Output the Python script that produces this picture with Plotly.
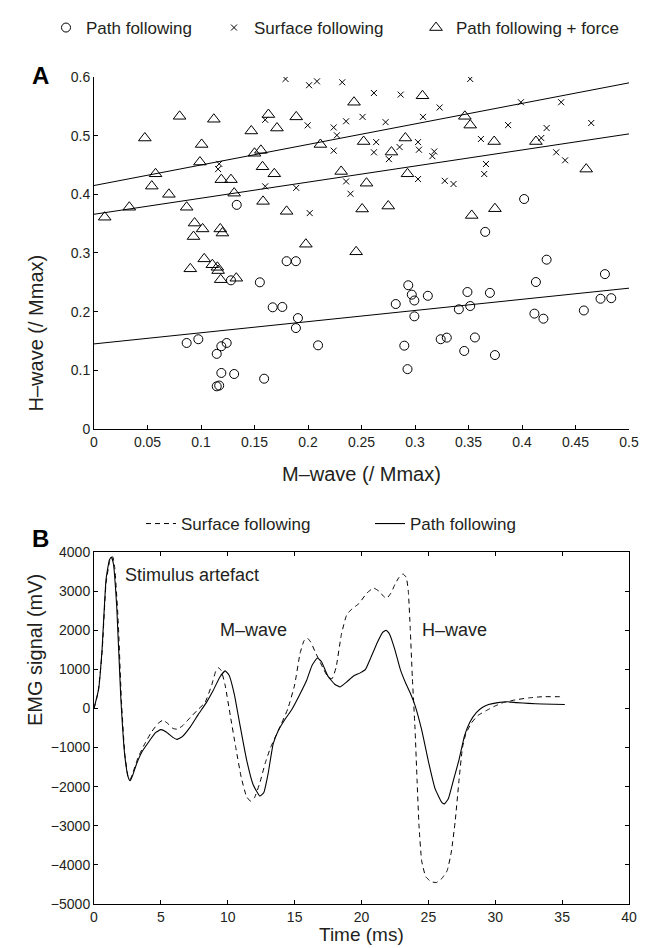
import plotly.graph_objects as go

# ---- Panel A data: H-wave vs M-wave ----
pp0_m = [0.0866, 0.0975, 0.1147, 0.119, 0.124, 0.119, 0.131, 0.1147, 0.117, 0.128,
         0.155, 0.159, 0.167, 0.176, 0.180, 0.1887, 0.1906, 0.1887, 0.2094, 0.1334,
         0.3656, 0.402, 0.423, 0.2937, 0.297, 0.2994, 0.312, 0.282, 0.2994, 0.349,
         0.3516, 0.341, 0.370, 0.413, 0.4116, 0.420, 0.4578, 0.4775, 0.4734, 0.4834,
         0.324, 0.3297, 0.356, 0.346, 0.3747, 0.290, 0.293]
pp0_h = [0.1466, 0.153, 0.128, 0.141, 0.1466, 0.0955, 0.0937, 0.0727, 0.074, 0.2534,
         0.250, 0.0857, 0.2074, 0.208, 0.286, 0.286, 0.189, 0.172, 0.1426, 0.382,
         0.336, 0.392, 0.2886, 0.245, 0.229, 0.219, 0.227, 0.213, 0.192, 0.2335,
         0.2096, 0.204, 0.232, 0.2505, 0.1966, 0.188, 0.202, 0.264, 0.222, 0.223,
         0.153, 0.1557, 0.156, 0.133, 0.126, 0.142, 0.102]

sf_m = [0.179, 0.201, 0.2084, 0.232, 0.251, 0.2356, 0.224, 0.1997, 0.160, 0.227,
        0.224, 0.117, 0.116, 0.160, 0.189, 0.2356, 0.2397, 0.2016, 0.3516, 0.2616,
        0.2866, 0.323, 0.399, 0.4366, 0.2725, 0.3075, 0.387, 0.423, 0.4647, 0.2637,
        0.3028, 0.2616, 0.2856, 0.2756, 0.3037, 0.318, 0.3162, 0.3616, 0.418, 0.432,
        0.4403, 0.3663, 0.3647, 0.3028, 0.3278, 0.336]
sf_h = [0.5966, 0.586, 0.5926, 0.591, 0.532, 0.5245, 0.514, 0.5176, 0.527, 0.5006,
        0.4744, 0.452, 0.443, 0.4136, 0.411, 0.422, 0.401, 0.368, 0.5966, 0.5727,
        0.570, 0.548, 0.557, 0.557, 0.523, 0.532, 0.518, 0.513, 0.5216, 0.489,
        0.489, 0.4716, 0.4806, 0.460, 0.476, 0.473, 0.465, 0.4943, 0.496, 0.4716,
        0.458, 0.4517, 0.4346, 0.426, 0.423, 0.4176]

ppf_m = [0.010, 0.033, 0.0475, 0.0575, 0.054, 0.070, 0.080, 0.0866, 0.094, 0.093,
         0.1015, 0.1006, 0.099, 0.112, 0.119, 0.128, 0.131, 0.118, 0.120, 0.147,
         0.150, 0.156, 0.1575, 0.163, 0.171, 0.1685, 0.158, 0.180, 0.189, 0.2116,
         0.231, 0.243, 0.252, 0.2506, 0.2547, 0.198, 0.307, 0.3466, 0.3516, 0.291,
         0.278, 0.374, 0.413, 0.293, 0.460, 0.275, 0.353, 0.3747, 0.090, 0.103,
         0.1106, 0.1153, 0.116, 0.1184, 0.133, 0.245]
ppf_h = [0.361, 0.378, 0.496, 0.435, 0.414, 0.400, 0.533, 0.378, 0.351, 0.328,
         0.341, 0.485, 0.455, 0.528, 0.425, 0.425, 0.402, 0.341, 0.334, 0.508,
         0.470, 0.475, 0.447, 0.536, 0.513, 0.435, 0.388, 0.371, 0.532, 0.485,
         0.439, 0.557, 0.490, 0.375, 0.419, 0.315, 0.568, 0.533, 0.518, 0.496,
         0.472, 0.490, 0.490, 0.435, 0.443, 0.380, 0.364, 0.3755, 0.273, 0.290,
         0.280, 0.2756, 0.270, 0.2545, 0.257, 0.302]

# regression lines (end values at M = 0 and M = 0.5)
fit_m = [0.0, 0.5]
fit_sf = [0.415, 0.590]
fit_ppf = [0.366, 0.503]
fit_pp0 = [0.145, 0.240]

# ---- Panel B data: EMG traces ----
path_t = [0, 0.35, 0.6, 0.9, 1.15, 1.3, 1.45, 1.7, 2.0, 2.3, 2.55, 2.7, 2.9, 3.2, 3.6,
          4.1, 4.6, 5.0, 5.4, 5.9, 6.2, 6.6, 7.2, 7.8, 8.4, 8.9, 9.4, 9.8, 10.1, 10.5,
          10.9, 11.4, 11.9, 12.4, 12.7, 13.0, 13.4, 13.8, 14.2, 14.8, 15.3, 15.9, 16.3,
          16.7, 17.0, 17.5, 18.0, 18.4, 18.9, 19.4, 19.9, 20.3, 20.7, 21.2, 21.6, 21.85,
          22.1, 22.5, 22.9, 23.3, 23.7, 24.0, 24.5, 25.0, 25.5, 26.0, 26.2, 26.5, 26.9,
          27.3, 27.7, 28.1, 28.6, 29.0, 29.5, 30.2, 30.9, 31.6, 32.5, 33.5, 35.2]
path_v = [0, 500, 1500, 3300, 3800, 3870, 3700, 2600, 300, -1200, -1750, -1850, -1700,
          -1400, -1100, -850, -620, -540, -600, -740, -790, -720, -470, -150, 150, 450,
          800, 960, 850, 350, -400, -1300, -1950, -2240, -2150, -1700, -900, -550, -320,
          -20, 300, 720, 1100, 1290, 1200, 820, 620, 550, 680, 830, 910, 1000, 1300,
          1700, 1950, 2000, 1900, 1500, 1000, 650, 350, 80, -550, -1350, -2050, -2400,
          -2440, -2300, -1800, -1300, -700, -350, -100, 20, 100, 150, 170, 150, 130,
          115, 100]

surf_t = [0, 0.3, 0.6, 0.9, 1.2, 1.4, 1.55, 1.8, 2.05, 2.3, 2.55, 2.7, 2.9, 3.3, 3.8,
          4.3, 4.8, 5.15, 5.5, 5.9, 6.2, 6.6, 7.2, 7.8, 8.3, 8.8, 9.1, 9.3, 9.5, 9.8,
          10.2, 10.6, 11.0, 11.4, 11.7, 12.0, 12.4, 12.8, 13.2, 13.6, 14.0, 14.5, 15.0,
          15.4, 15.7, 15.95, 16.2, 16.6, 17.1, 17.5, 17.8, 18.1, 18.5, 18.9, 19.3, 19.8,
          20.4, 20.9, 21.3, 21.7, 21.9, 22.2, 22.5, 22.8, 23.1, 23.35, 23.5, 23.65, 23.8,
          24.0, 24.15, 24.3, 24.5, 24.8, 25.2, 25.6, 26.0, 26.4, 26.7, 27.0, 27.3, 27.55,
          27.8, 28.2, 28.7, 29.3, 29.9, 30.6, 31.5, 32.5, 33.5, 35.1]
surf_v = [0, 400, 1400, 3200, 3800, 3880, 3600, 2300, 200, -1150, -1750, -1820, -1650,
          -1250, -900, -600, -380, -300, -380, -510, -530, -450, -230, -20, 150, 600,
          950, 1040, 980, 600, -200, -1000, -1750, -2250, -2370, -2280, -1900, -1400,
          -1000, -700, -400, 0, 600, 1400, 1730, 1800, 1700, 1400, 1050, 800, 760, 1050,
          1900, 2400, 2550, 2680, 2950, 3080, 3000, 2850, 2820, 2950, 3170, 3350, 3440,
          3350, 3000, 2000, 800, -500, -1800, -3000, -3900, -4300, -4430, -4450, -4350,
          -4150, -3700, -2900, -1800, -1000, -650, -380, -180, -60, 50, 150, 220, 270,
          300, 300]

FONT = "Liberation Sans, Arial, Helvetica, sans-serif"
TXT = "#231f20"

fig = go.Figure()

# panel A scatter
fig.add_trace(go.Scatter(x=pp0_m, y=pp0_h, mode="markers", name="Path following",
                         marker=dict(symbol="circle-open", size=9, color="black",
                                     line=dict(width=1)),
                         xaxis="x", yaxis="y", legend="legend"))
fig.add_trace(go.Scatter(x=sf_m, y=sf_h, mode="markers", name="Surface following",
                         marker=dict(symbol="x-thin-open", size=6, color="black",
                                     line=dict(width=1)),
                         xaxis="x", yaxis="y", legend="legend2"))
fig.add_trace(go.Scatter(x=ppf_m, y=ppf_h, mode="markers", name="Path following + force",
                         marker=dict(symbol="triangle-up-open", size=11, color="black",
                                     line=dict(width=1)),
                         xaxis="x", yaxis="y", legend="legend3"))
for fy in (fit_sf, fit_ppf, fit_pp0):
    fig.add_trace(go.Scatter(x=fit_m, y=fy, mode="lines", showlegend=False,
                             line=dict(color="black", width=1), xaxis="x", yaxis="y"))

# panel B traces
fig.add_trace(go.Scatter(x=surf_t, y=surf_v, mode="lines", name="Surface following",
                         line=dict(color="black", width=1, dash="5px,4px",
                                   shape="spline", smoothing=0.4),
                         xaxis="x2", yaxis="y2", legend="legend4"))
fig.add_trace(go.Scatter(x=path_t, y=path_v, mode="lines", name="Path following",
                         line=dict(color="black", width=1.1, shape="spline", smoothing=0.4),
                         xaxis="x2", yaxis="y2", legend="legend5"))

axis_common = dict(showline=True, linecolor="black", linewidth=1, ticks="inside",
                   ticklen=4, tickwidth=1, tickcolor="black", showgrid=False,
                   zeroline=False, tickfont=dict(family=FONT, size=14, color=TXT))

fig.update_layout(
    width=668, height=948,
    margin=dict(l=86, r=47, t=69, b=52, autoexpand=False),
    paper_bgcolor="white", plot_bgcolor="white",
    font=dict(family=FONT, color=TXT),
    xaxis=dict(axis_common, range=[0, 0.5], tickvals=[i * 0.05 for i in range(11)],
               ticktext=["0", "0.05", "0.1", "0.15", "0.2", "0.25", "0.3", "0.35",
                         "0.4", "0.45", "0.5"], anchor="y"),
    yaxis=dict(axis_common, range=[0, 0.6], domain=[0.5744, 1.0],
               tickvals=[0, 0.1, 0.2, 0.3, 0.4, 0.5, 0.6],
               ticktext=["0", "0.1", "0.2", "0.3", "0.4", "0.5", "0.6"], anchor="x"),
    xaxis2=dict(axis_common, range=[0, 40], dtick=5, mirror="ticks", anchor="y2"),
    yaxis2=dict(axis_common, range=[-5000, 4000], dtick=1000, mirror="ticks",
                domain=[0, 0.4256], anchor="x2"),
    showlegend=True,
)

leg = dict(orientation="h", yanchor="middle", xanchor="left", bgcolor="rgba(0,0,0,0)",
           font=dict(family=FONT, size=17, color=TXT), itemwidth=30)
fig.update_layout(
    legend=dict(leg, x=(38 - 86) / 535, y=(896 - 20) / 827),
    legend2=dict(leg, x=(206 - 86) / 535, y=(896 - 20) / 827),
    legend3=dict(leg, x=(408 - 86) / 535, y=(896 - 20) / 827),
    legend4=dict(leg, x=(133 - 86) / 535, y=(896 - 516) / 827),
    legend5=dict(leg, x=(362 - 86) / 535, y=(896 - 516) / 827),
)

ann = []
ann.append(dict(text="<b>A</b>", x=(22 - 86) / 535, y=(896 - 52) / 827, xref="paper",
                yref="paper", showarrow=False, font=dict(size=24, color="black")))
ann.append(dict(text="<b>B</b>", x=(22 - 86) / 535, y=(896 - 530) / 827, xref="paper",
                yref="paper", showarrow=False, font=dict(size=24, color="black")))
ann.append(dict(text="M\u2013wave (/ Mmax)", x=0.5, y=(896 - 466) / 827, xref="paper",
                yref="paper", showarrow=False, font=dict(size=20)))
ann.append(dict(text="Time (ms)", x=0.5, y=(896 - 939) / 827, xref="paper",
                yref="paper", showarrow=False, font=dict(size=19)))
ann.append(dict(text="H\u2013wave (/ Mmax)", x=(14 - 86) / 535, y=(896 - 245) / 827,
                xref="paper", yref="paper", showarrow=False, textangle=-90,
                font=dict(size=20)))
ann.append(dict(text="EMG signal (mV)", x=(14 - 86) / 535, y=(896 - 720) / 827,
                xref="paper", yref="paper", showarrow=False, textangle=-90,
                font=dict(size=20)))
# line labels, panel A
for txt, yy in (("SF", 0.595), ("PP<sub>f</sub>", 0.492), ("PP<sub>0</sub>", 0.245)):
    ann.append(dict(text=txt, x=0.519, y=yy, xref="x", yref="y", xanchor="left",
                    showarrow=False, font=dict(size=17)))
# panel B labels
for txt, xx, yy in (("Stimulus artefact", 2.17, 3410), ("M\u2013wave", 9.27, 2000),
                    ("H\u2013wave", 24.4, 2000)):
    ann.append(dict(text=txt, x=xx, y=yy, xref="x2", yref="y2", xanchor="left",
                    showarrow=False, font=dict(size=18)))
fig.update_layout(annotations=ann)

fig.write_html("out.html")
